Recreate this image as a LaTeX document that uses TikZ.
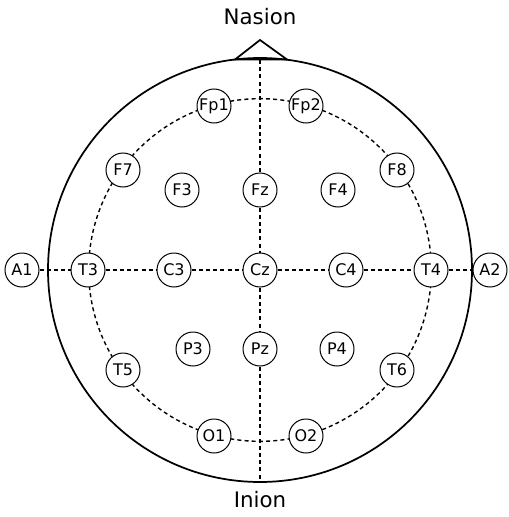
\documentclass[tikz,border=0pt]{standalone}
\usepackage{fontspec}
\setmainfont{DejaVu Sans}
\begin{document}
\begin{tikzpicture}[x=0.75pt,y=-0.75pt,
  electrode/.style={circle,draw,fill=white,minimum size=25.5pt,inner sep=0pt,line width=0.75pt,font=\fontsize{12}{14}\selectfont},
  guide/.style={dashed,line width=1.05pt,dash pattern=on 3pt off 2.4pt},
  head/.style={line width=1.3pt},
  lbl/.style={font=\fontsize{16}{19}\selectfont}]
\useasboundingbox (0,0) rectangle (508,517);
\coordinate (c) at (260,270);
\coordinate (top) at (260,60);
\coordinate (bot) at (260,483);
% head
\draw[head] (c) circle[radius=159pt];
\draw[head,line join=miter] (235,59.5) -- (260,40) -- (287,59.5) -- cycle;
% dashed circle
\draw[guide] (c) circle[radius=128.5pt];
% electrodes
\node[electrode] (Fp1) at (214,106) {Fp1};
\node[electrode] (Fp2) at (306,106) {Fp2};
\node[electrode] (F7) at (123,170) {F7};
\node[electrode] (F8) at (397,170) {F8};
\node[electrode] (F3) at (182,190) {F3};
\node[electrode] (Fz) at (260,190) {Fz};
\node[electrode] (F4) at (338,190) {F4};
\node[electrode] (A1) at (22,270) {A1};
\node[electrode] (T3) at (88,270) {T3};
\node[electrode] (C3) at (174,270) {C3};
\node[electrode] (Cz) at (260,270) {Cz};
\node[electrode] (C4) at (346,270) {C4};
\node[electrode] (T4) at (431,270) {T4};
\node[electrode] (A2) at (490,270) {A2};
\node[electrode] (P3) at (193,349) {P3};
\node[electrode] (Pz) at (260,349) {Pz};
\node[electrode] (P4) at (337,349) {P4};
\node[electrode] (T5) at (123,370) {T5};
\node[electrode] (T6) at (397,370) {T6};
\node[electrode] (O1) at (214,436) {O1};
\node[electrode] (O2) at (306,436) {O2};
% straight guides
\draw[guide] (A1) -- (T3);
\draw[guide] (T3) -- (C3);
\draw[guide] (C3) -- (Cz);
\draw[guide] (Cz) -- (C4);
\draw[guide] (C4) -- (T4);
\draw[guide] (T4) -- (A2);
\draw[guide] (top) -- (Fz);
\draw[guide] (Fz) -- (Cz);
\draw[guide] (Cz) -- (Pz);
\draw[guide] (Pz) -- (bot);
% labels
\node[lbl] (nasion) at (260,17) {Nasion};
\node[lbl] (inion) at (260,500) {Inion};
\end{tikzpicture}
\end{document}
